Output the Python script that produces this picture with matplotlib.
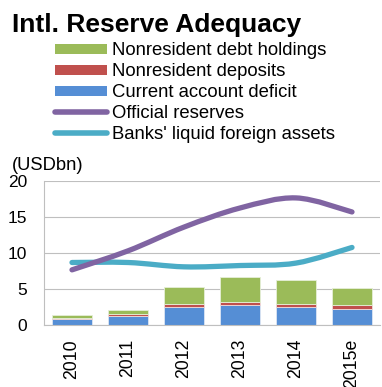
import matplotlib
matplotlib.use("Agg")
import matplotlib.pyplot as plt
import numpy as np
from matplotlib.path import Path
from matplotlib.patches import PathPatch, Rectangle

plt.rcParams['font.family'] = ['Liberation Sans', 'DejaVu Sans']

years = ["2010", "2011", "2012", "2013", "2014", "2015e"]
current_account_deficit = [0.8, 1.3, 2.55, 2.83, 2.5, 2.18]
nonresident_deposits = [0.2, 0.2, 0.42, 0.42, 0.47, 0.55]
nonresident_debt = [0.35, 0.55, 2.33, 3.48, 3.25, 2.42]
official_reserves = [7.66, 10.3, 13.6, 16.25, 17.65, 15.7]
banks_liquid_assets = [8.68, 8.68, 8.08, 8.26, 8.6, 10.77]

legend_labels = ["Nonresident debt holdings", "Nonresident deposits", "Current account deficit",
                 "Official reserves", "Banks' liquid foreign assets"]

c_blue = "#558ED5"
c_red = "#C0504D"
c_green = "#9BBB59"
c_purple = "#8064A2"
c_cyan = "#4BACC6"

W, H = 382, 387
fig = plt.figure(figsize=(W / 100, H / 100), dpi=100)
ax = fig.add_axes([44 / W, 1 - 325 / H, 336 / W, 144 / H])

x = np.arange(len(years))
w = 0.71
b1 = np.array(current_account_deficit)
b2 = b1 + np.array(nonresident_deposits)
ax.bar(x, current_account_deficit, w, color=c_blue, edgecolor="#dde6f3", linewidth=0.6, zorder=2)
ax.bar(x, nonresident_deposits, w, bottom=b1, color=c_red, edgecolor="#f0dcdc", linewidth=0.6, zorder=2)
ax.bar(x, nonresident_debt, w, bottom=b2, color=c_green, edgecolor="#e6efd8", linewidth=0.6, zorder=2)


def smooth_path(xs, ys):
    pts = np.column_stack([xs, ys]).astype(float)
    n = len(pts)
    verts = [pts[0]]
    codes = [Path.MOVETO]
    for i in range(n - 1):
        p_prev = pts[i - 1] if i > 0 else pts[i]
        p_next2 = pts[i + 2] if i + 2 < n else pts[i + 1]
        c1 = pts[i] + (pts[i + 1] - p_prev) / 6.0
        c2 = pts[i + 1] - (p_next2 - pts[i]) / 6.0
        verts += [c1, c2, pts[i + 1]]
        codes += [Path.CURVE4] * 3
    return Path(verts, codes)


for series, col in [(banks_liquid_assets, c_cyan), (official_reserves, c_purple)]:
    pp = PathPatch(smooth_path(x, series), facecolor="none", edgecolor=col,
                   linewidth=3.8, capstyle="round", joinstyle="round", zorder=3)
    ax.add_patch(pp)

ax.set_xlim(-0.5, 5.5)
ax.set_ylim(0, 20)
ax.set_yticks([0, 5, 10, 15, 20])
ax.yaxis.grid(True, color="#bfbfbf", linewidth=0.8, zorder=0)
ax.set_axisbelow(True)
ax.set_xticks(x)
ax.set_xticklabels(years, rotation=90, fontsize=12.7)
ax.tick_params(axis="y", labelsize=12.5, length=0, pad=12)
ax.tick_params(axis="x", length=0, pad=10)
for s in ["top", "right"]:
    ax.spines[s].set_visible(False)
for s in ["left", "bottom"]:
    ax.spines[s].set_color("#bfbfbf")
    ax.spines[s].set_linewidth(0.8)

# Header, unit label and legend drawn on a pixel-coordinate overlay
ov = fig.add_axes([0, 0, 1, 1], zorder=5)
ov.set_xlim(0, W)
ov.set_ylim(H, 0)
ov.axis("off")

ov.text(11.5, 32.3, "Intl. Reserve Adequacy", fontsize=19, fontweight="bold",
        va="baseline", ha="left")
ov.text(11.5, 170, "(USDbn)", fontsize=13.2, va="baseline", ha="left")

kinds = ["bar", "bar", "bar", "line", "line"]
colors = [c_green, c_red, c_blue, c_purple, c_cyan]
for i, (lab, kind, col) in enumerate(zip(legend_labels, kinds, colors)):
    yc = 49 + 21.1 * i
    if kind == "bar":
        ov.add_patch(Rectangle((55, yc - 5), 52, 10, facecolor=col, edgecolor="none"))
    else:
        ov.plot([55, 106.5], [yc, yc], color=col, linewidth=4.0, solid_capstyle="round")
    ov.text(112, yc + 5.6, lab, fontsize=13.3, va="baseline", ha="left")

fig.savefig("out.png", dpi=100)
